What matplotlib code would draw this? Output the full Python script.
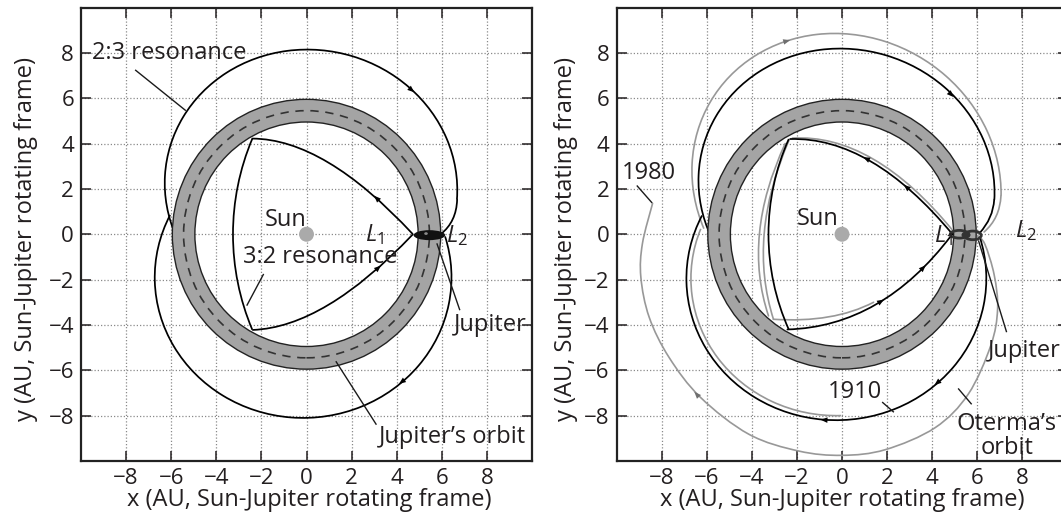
import numpy as np
import matplotlib
matplotlib.use('Agg')
import matplotlib.pyplot as plt
from matplotlib.path import Path
from matplotlib.patches import PathPatch, Circle, Wedge, Ellipse, Arc

plt.rcParams['font.family'] = ['Open Sans', 'DejaVu Sans']
plt.rcParams['mathtext.fontset'] = 'custom'
plt.rcParams['mathtext.rm'] = 'Open Sans'
plt.rcParams['mathtext.it'] = 'Open Sans:italic'

# ---------------- data (AU) ----------------
ticks = [-8, -6, -4, -2, 0, 2, 4, 6, 8]
xlabel = "x (AU, Sun-Jupiter rotating frame)"
ylabel = "y (AU, Sun-Jupiter rotating frame)"
orbit_inner_r = 4.95
orbit_outer_r = 5.95
orbit_mid_r = 5.45
sun_r = 0.33

# elliptical lobes: [cx, cy, width, height, tilt, theta_start, theta_end] (theta = polar angle in deg)
L_upper_lobe = [0.2, 2.1, 13.0, 12.06, 170, -5, 200]
L_lower_lobe = [-0.15, -1.9, 13.16, 12.4, 0, 155, 376]
R_black_upper_lobe = [0.2, 2.1, 13.2, 12.1, 165, -5, 200]
R_black_lower_lobe = [-0.25, -1.95, 13.3, 12.5, 0, 155, 376]
R_gray_upper_lobe = [0.2, 2.3, 14.0, 12.8, 150, -5, 198]
R_gray_inner_lobe = [-0.25, -1.95, 12.9, 12.1, 0, 160, 272]

# short links into Jupiter's neighbourhood (start, control, end)
L_links = [[(6.68, 1.53), (6.65, 0.55), (5.95, 0.0)]]
R_black_links = [[(6.75, 1.53), (6.7, 0.7), (6.1, 0.05)]]
R_gray_links = [[(7.05, 1.7), (7.0, 0.7), (6.3, 0.1)]]

# 3:2 resonance sides: quadratic curves (start, control, end)
L_32_sides = [[(-2.4, 4.22), (0.8, 4.2), (4.7, 0.02)],
              [(-2.38, -4.22), (0.8, -4.1), (4.7, -0.02)]]
R_32_sides = [[(-2.3, 4.2), (1.3, 4.3), (4.9, 0.0)],
              [(-2.42, -4.2), (1.785, -4.075), (4.85, -0.05)]]
R_g32_sides = [[(-2.2, 4.24), (1.4, 4.45), (4.95, 0.12)],
               [(-2.52, 4.0), (-4.43, -0.1), (-3.26, -3.6)],
               [(-2.35, 4.15), (-4.205, -0.1), (-3.04, -3.75)],
               [(-3.04, -3.75), (-0.38, -3.92), (1.4, -3.0)]]
# 3:2 left sides: circular arcs [cx, cy, radius, theta_start, theta_end]
L_32_left = [7.52, 0.0, 10.78, 157.0, 203.0]
R_32_left = [6.99, 0.0, 10.25, 155.8, 204.2]

# Oterma's 1980 path
R_gray_big = [(6.0, -0.05), (6.34, -0.45), (6.75, -1.8), (6.9, -3.3), (6.6, -4.9),
              (5.6, -7.05), (4.13, -8.53), (1.92, -9.5), (0.0, -9.75), (-1.92, -9.56),
              (-4.13, -8.82), (-6.27, -7.2), (-7.67, -5.43), (-8.55, -3.66),
              (-8.92, -1.89), (-8.85, -0.41), (-8.4, 1.36)]

# arrow heads: (tail, head)
L_arrows = [((4.5, 6.5), (4.78, 6.26)), ((4.36, -6.41), (4.1, -6.6)),
            ((3.25, 1.45), (3.0, 1.7)), ((3.05, -1.6), (3.3, -1.38))]
R_arrows_black = [((4.7, 6.3), (4.95, 6.05)), ((4.35, -6.45), (4.1, -6.65)),
                  ((-0.6, -8.2), (-0.95, -8.18)), ((1.35, 3.2), (0.94, 3.4)),
                  ((3.1, 1.875), (2.74, 2.18)), ((1.5, -3.1), (1.86, -2.88)),
                  ((3.45, -1.63), (3.71, -1.37))]
R_arrows_gray = [((-2.6, 8.48), (-2.3, 8.56)), ((-6.27, -7.25), (-6.55, -6.95))]

GRAY_LINE = '#989898'
TXT = '#231f20'
FS = 17


def ell_arc(ax, spec, color='k', lw=1.25, z=0.9):
    cx, cy, w, h, ang, t1, t2 = spec
    ax.add_patch(Arc((cx, cy), w, h, angle=ang, theta1=t1 - ang, theta2=t2 - ang,
                     edgecolor=color, lw=lw, zorder=z))


def circ_arc(ax, spec, color='k', lw=1.25, z=3):
    cx, cy, r, t1, t2 = spec
    ax.add_patch(Arc((cx, cy), 2 * r, 2 * r, theta1=t1, theta2=t2,
                     edgecolor=color, lw=lw, zorder=z))


def quad(ax, pts, color='k', lw=1.25, z=3):
    path = Path(pts, [Path.MOVETO, Path.CURVE3, Path.CURVE3])
    ax.add_patch(PathPatch(path, fill=False, edgecolor=color, lw=lw, zorder=z,
                           capstyle='round'))


def smooth(ax, pts, color='k', lw=1.2, z=3):
    P = np.asarray(pts, float)
    n = len(P)
    verts = [P[0]]
    codes = [Path.MOVETO]
    for i in range(n - 1):
        p0 = P[i - 1] if i > 0 else P[i]
        p1, p2 = P[i], P[i + 1]
        p3 = P[i + 2] if i + 2 < n else P[i + 1]
        verts += [p1 + (p2 - p0) / 6.0, p2 - (p3 - p1) / 6.0, p2]
        codes += [Path.CURVE4] * 3
    ax.add_patch(PathPatch(Path(verts, codes), fill=False, edgecolor=color, lw=lw,
                           zorder=z, capstyle='round', joinstyle='round'))


def arrow(ax, p, q, color='k'):
    ax.annotate('', xy=q, xytext=p,
                arrowprops=dict(arrowstyle='-|>,head_length=0.55,head_width=0.22',
                                color=color, lw=0.01, shrinkA=0, shrinkB=0,
                                mutation_scale=9), zorder=4)


def leader(ax, p, q):
    ax.plot([p[0], q[0]], [p[1], q[1]], color='#1a1a1a', lw=1.0, zorder=5,
            solid_capstyle='butt')


def label(ax, x, y, s, ha='left', va='center'):
    ax.text(x, y, s, fontsize=FS, ha=ha, va=va, color=TXT, zorder=6)


def base(ax):
    ax.set_xlim(-10, 10)
    ax.set_ylim(-10, 10)
    ax.set_xticks(ticks)
    ax.set_yticks(ticks)
    ax.grid(True, ls=(0, (1, 1.6)), color='#8a8a8a', lw=0.9)
    ax.set_axisbelow(True)
    ax.tick_params(direction='in', length=7, width=1.1, top=True, right=True,
                   labelsize=16, pad=5, colors=TXT)
    for s in ax.spines.values():
        s.set_linewidth(1.6)
        s.set_color('#222222')
    ax.set_xlabel(xlabel, fontsize=FS, color=TXT)
    ax.set_ylabel(ylabel, fontsize=FS, color=TXT)
    ax.xaxis.label.set_va('center')
    ax.yaxis.label.set_va('center')
    # Jupiter's orbit band
    ax.add_patch(Wedge((0, 0), orbit_outer_r, 0, 360, width=orbit_outer_r - orbit_inner_r,
                       facecolor='#a4a4a4', edgecolor='none', zorder=1))
    for r in (orbit_inner_r, orbit_outer_r):
        ax.add_patch(Circle((0, 0), r, fill=False, edgecolor='#222222', lw=1.0, zorder=2))
    ax.add_patch(Circle((0, 0), orbit_mid_r, fill=False, edgecolor='#333333', lw=1.2,
                        ls=(0, (5, 4)), zorder=2))
    ax.add_patch(Circle((0, 0), sun_r, facecolor='#aaaaaa', edgecolor='none', zorder=2))


fig = plt.figure(figsize=(10.61, 5.27), dpi=100)
axL = fig.add_axes([81 / 1061, 1 - 461 / 527, 451 / 1061, 453.5 / 527])
axR = fig.add_axes([616.5 / 1061, 1 - 461 / 527, 451 / 1061, 453.5 / 527])

# ---------------- left panel ----------------
base(axL)
axL.xaxis.set_label_coords(0.506, -0.086)
axL.yaxis.set_label_coords(-0.122, 0.49)
ell_arc(axL, L_upper_lobe)
ell_arc(axL, L_lower_lobe)
for lk in L_links:
    quad(axL, lk, z=0.9)
circ_arc(axL, L_32_left)
for sd in L_32_sides:
    quad(axL, sd)
for p, q in L_arrows:
    arrow(axL, p, q)
axL.add_patch(Ellipse((5.45, -0.04), 1.4, 0.44, facecolor='#111111', edgecolor='none', zorder=4))
axL.add_patch(Ellipse((5.3, 0.03), 0.16, 0.12, facecolor='#8a8a8a', edgecolor='none', zorder=4.1))
label(axL, -9.5, 8.0, "2:3 resonance")
leader(axL, (-7.6, 7.25), (-5.35, 5.45))
label(axL, 0.0, 0.35, "Sun", ha='right', va='baseline')
label(axL, 2.6, 0.0, r"$\mathit{L}_1$")
label(axL, 6.2, -0.05, r"$\mathit{L}_2$")
label(axL, -2.8, -1.0, "3:2 resonance")
leader(axL, (-1.9, -1.75), (-2.65, -3.15))
label(axL, 6.55, -4.0, "Jupiter")
leader(axL, (6.8, -3.35), (5.78, -0.4))
label(axL, 3.2, -8.95, "Jupiter\u2019s orbit")
leader(axL, (3.1, -8.4), (1.3, -5.6))

# ---------------- right panel ----------------
base(axR)
axR.xaxis.set_label_coords(0.5, -0.086)
axR.yaxis.set_label_coords(-0.111, 0.49)
ell_arc(axR, R_gray_upper_lobe, color=GRAY_LINE, lw=1.2, z=0.8)
ell_arc(axR, R_gray_inner_lobe, color=GRAY_LINE, lw=1.2, z=0.8)
for lk in R_gray_links:
    quad(axR, lk, color=GRAY_LINE, lw=1.2, z=0.8)
smooth(axR, R_gray_big, color=GRAY_LINE, lw=1.2, z=0.8)
for sd in R_g32_sides:
    quad(axR, sd, color=GRAY_LINE, lw=1.2, z=2.8)
ell_arc(axR, R_black_upper_lobe)
ell_arc(axR, R_black_lower_lobe)
for lk in R_black_links:
    quad(axR, lk, z=0.9)
circ_arc(axR, R_32_left)
for sd in R_32_sides:
    quad(axR, sd)
for p, q in R_arrows_black:
    arrow(axR, p, q)
for p, q in R_arrows_gray:
    arrow(axR, p, q, color='#6f6f6f')
axR.add_patch(Ellipse((5.2, 0.0), 0.8, 0.34, fill=False, edgecolor='#333333', lw=2.0, zorder=4))
axR.add_patch(Ellipse((5.8, -0.05), 0.75, 0.38, fill=False, edgecolor='#333333', lw=2.0, zorder=4))
axR.add_patch(Ellipse((5.5, -0.03), 0.4, 0.3, facecolor='#333333', edgecolor='none', zorder=4))
label(axR, -9.75, 2.68, "1980")
leader(axR, (-9.1, 2.15), (-8.42, 1.38))
label(axR, -0.16, 0.4, "Sun", ha='right', va='baseline')
label(axR, 4.1, -0.05, r"$\mathit{L}_1$")
label(axR, 7.65, 0.15, r"$\mathit{L}_2$")
label(axR, 0.58, -6.95, "1910", ha='center')
leader(axR, (1.78, -7.4), (2.3, -7.85))
label(axR, 6.45, -5.13, "Jupiter")
leader(axR, (7.3, -4.32), (6.05, -0.27))
label(axR, 7.3, -8.38, "Oterma\u2019s", ha='center')
label(axR, 7.3, -9.41, "orbit", ha='center')
leader(axR, (5.75, -7.5), (5.15, -6.8))

fig.savefig('out.png', dpi=100)
